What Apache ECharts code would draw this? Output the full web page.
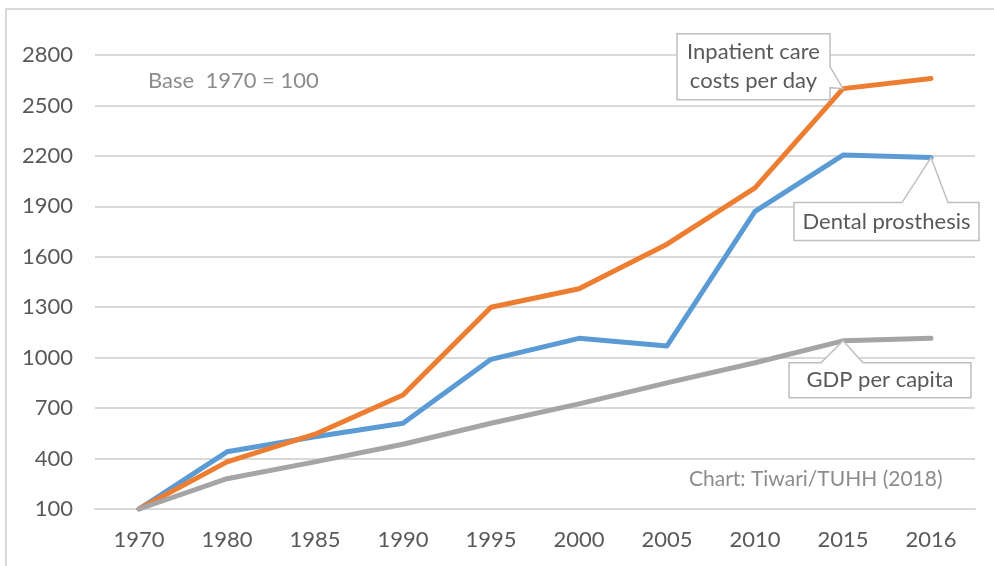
<!DOCTYPE html>
<html>
<head>
<meta charset="utf-8">
<script src="https://cdn.jsdelivr.net/npm/echarts@6/dist/echarts.min.js"></script>
<style>
  html, body { margin: 0; padding: 0; background: #fff; }
  #main { width: 994px; height: 566px; }
</style>
</head>
<body>
<div id="main"></div>
<script>
// categories (years)
var years = ['1970', '1980', '1985', '1990', '1995', '2000', '2005', '2010', '2015', '2016'];
// index values, base 1970 = 100
var dental = [100, 440, 530, 610, 990, 1115, 1070, 1870, 2205, 2190];
var inpatient = [100, 380, 545, 778, 1300, 1410, 1675, 2010, 2600, 2660];
var gdp = [100, 280, 380, 485, 610, 725, 850, 970, 1100, 1115];
// y axis ticks
var yMin = 100, yMax = 2800, yStep = 300;

var textColor = '#595959';
var gridColor = '#d9d9d9';
var fontName = 'Lato';

var chart = echarts.init(document.getElementById('main'));

function lineSeries(name, data, color) {
    return {
        name: name,
        type: 'line',
        data: data,
        symbol: 'none',
        silent: true,
        lineStyle: { color: color, width: 5, cap: 'round', join: 'round' }
    };
}

var option = {
    animation: false,
    backgroundColor: '#fff',
    grid: { left: 95, right: 19, top: 55, bottom: 57 },
    xAxis: {
        type: 'category',
        data: years,
        boundaryGap: true,
        axisLine: { lineStyle: { color: gridColor, width: 2 } },
        axisTick: { show: false },
        axisLabel: { color: textColor, fontFamily: fontName, fontSize: 22, margin: 20 }
    },
    yAxis: {
        type: 'value',
        min: yMin,
        max: yMax,
        interval: yStep,
        axisLine: { show: false },
        axisTick: { show: false },
        splitLine: { lineStyle: { color: gridColor, width: 2 } },
        axisLabel: {
            color: textColor, fontFamily: fontName, fontSize: 22, margin: 22,
            formatter: function (v) { return String(v); }
        }
    },
    series: [
        lineSeries('Dental prosthesis', dental, '#5b9bd5'),
        lineSeries('Inpatient care costs per day', inpatient, '#ed7d31'),
        lineSeries('GDP per capita', gdp, '#a5a5a5')
    ]
};
chart.setOption(option);

// 边框 + 文字
var graphics = [
    {
        type: 'rect',
        shape: { x: 6, y: 9, width: 1100, height: 700 },
        style: { fill: null, stroke: gridColor, lineWidth: 2 },
        z: 0
    },
    {
        type: 'text',
        left: 148, top: 70,
        style: { text: 'Base  1970 = 100', fill: '#8c8c8c', font: '22px ' + fontName }
    },
    {
        type: 'text',
        left: 689, top: 469,
        style: { text: 'Chart: Tiwari/TUHH (2018)', fill: '#8c8c8c', font: '21px ' + fontName }
    }
];

// callout: box relative to the data point, wedge on one edge
function callout(seriesIndex, dataIndex, value, box, wedge, lines) {
    var p = chart.convertToPixel({ seriesIndex: seriesIndex }, [dataIndex, value]);
    var L = p[0] + box[0], R = p[0] + box[1], T = p[1] + box[2], B = p[1] + box[3];
    var pts;
    if (wedge.side === 'right') {
        pts = [[L, T], [R, T], [R, p[1] + wedge.a], p, [R, p[1] + wedge.b], [R, B], [L, B]];
    } else {
        pts = [[L, T], [p[0] + wedge.a, T], p, [p[0] + wedge.b, T], [R, T], [R, B], [L, B]];
    }
    graphics.push({
        type: 'polygon',
        shape: { points: pts },
        style: { fill: '#fff', stroke: '#bfbfbf', lineWidth: 1.5 },
        z: 10
    });
    graphics.push({
        type: 'text',
        x: (L + R) / 2,
        y: (T + B) / 2,
        style: {
            text: lines.join('\n'),
            fill: textColor,
            font: '22px ' + fontName,
            align: 'center',
            verticalAlign: 'middle',
            lineHeight: 29
        },
        z: 11
    });
}

callout(1, 8, inpatient[8], [-166, -13, -55, 11], { side: 'right', a: -22, b: -1 }, ['Inpatient care', 'costs per day']);
callout(0, 9, dental[9], [-137, 48, 45, 83], { side: 'top', a: -29, b: 17 }, ['Dental prosthesis']);
callout(2, 8, gdp[8], [-54, 128, 22, 57], { side: 'top', a: -22, b: 20 }, ['GDP per capita']);

chart.setOption({ graphic: graphics });
</script>
</body>
</html>
